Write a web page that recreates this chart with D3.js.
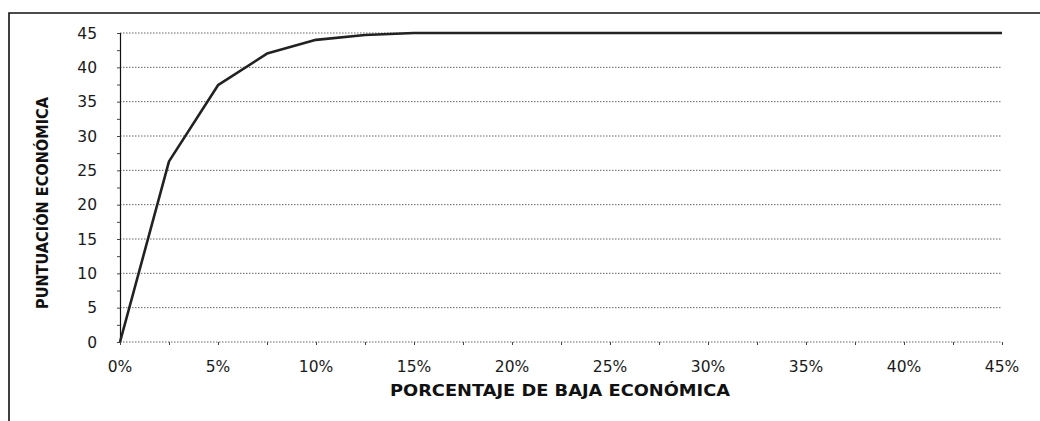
<!DOCTYPE html>
<html>
<head>
<meta charset="utf-8">
<script src="https://cdn.jsdelivr.net/npm/d3@7"></script>
<style>
  body { margin: 0; background: #fff; }
  svg { display: block; }
  .tick-label { font-family: "DejaVu Sans", sans-serif; font-size: 15.5px; fill: #1a1a1a; }
  .axis-title { font-family: "DejaVu Sans", sans-serif; font-size: 15px; font-weight: 700; fill: #111; }
</style>
</head>
<body>
<svg id="chart" width="1040" height="421"></svg>
<script>
// percentage of economic reduction (x) and resulting score (y)
const bajaPct = [0, 2.5, 5, 7.5, 10, 12.5, 15, 17.5, 20, 22.5, 25, 27.5, 30, 32.5, 35, 37.5, 40, 42.5, 45];
const puntuacion = [0, 26.3, 37.4, 42, 44, 44.7, 45, 45, 45, 45, 45, 45, 45, 45, 45, 45, 45, 45, 45];
const xTicks = [0, 5, 10, 15, 20, 25, 30, 35, 40, 45];
const yTicks = [0, 5, 10, 15, 20, 25, 30, 35, 40, 45];
const xTitle = 'PORCENTAJE DE BAJA ECONÓMICA';
const yTitle = 'PUNTUACIÓN ECONÓMICA';

const svg = d3.select('#chart');
const margin = { left: 120, right: 38, top: 33, bottom: 79 }; // px
const width = 1040, height = 421;

const x = d3.scaleLinear().domain([0, 45]).range([margin.left, width - margin.right]);
const y = d3.scaleLinear().domain([0, 45]).range([height - margin.bottom, margin.top]);

// outer frame (top + left edges)
svg.append('path')
  .attr('d', `M9,421 V13 H1040`)
  .attr('fill', 'none')
  .attr('stroke', '#111')
  .attr('stroke-width', 1.6);

// gridlines
svg.append('g')
  .selectAll('line')
  .data(yTicks)
  .join('line')
    .attr('x1', x(0))
    .attr('x2', x(45))
    .attr('y1', d => y(d))
    .attr('y2', d => y(d))
    .attr('stroke', '#666')
    .attr('stroke-width', 1)
    .attr('stroke-dasharray', '1.5,1.5');

// y axis line + minor ticks
const yAxis = d3.axisLeft(y)
  .tickValues(d3.range(0, 45.01, 2.5))
  .tickSize(3)
  .tickFormat('');
svg.append('g')
  .attr('transform', `translate(${x(0)},0)`)
  .call(yAxis)
  .call(g => g.select('.domain').attr('stroke', '#111').attr('stroke-width', 1.2))
  .call(g => g.selectAll('.tick line').attr('stroke', '#444'));

// x axis minor ticks
const xAxis = d3.axisBottom(x)
  .tickValues(d3.range(0, 45.01, 2.5))
  .tickSize(3)
  .tickFormat('');
svg.append('g')
  .attr('transform', `translate(0,${y(0)})`)
  .call(xAxis)
  .call(g => g.select('.domain').remove())
  .call(g => g.selectAll('.tick line').attr('stroke', '#444'));

// tick labels
svg.append('g')
  .selectAll('text')
  .data(yTicks)
  .join('text')
    .attr('class', 'tick-label')
    .attr('x', 97)
    .attr('y', d => y(d))
    .attr('dy', '0.36em')
    .attr('text-anchor', 'end')
    .text(d => d);

svg.append('g')
  .selectAll('text')
  .data(xTicks)
  .join('text')
    .attr('class', 'tick-label')
    .attr('x', d => x(d))
    .attr('y', 366)
    .attr('dy', '0.36em')
    .attr('text-anchor', 'middle')
    .text(d => d + '%');

// axis titles
svg.append('text')
  .attr('class', 'axis-title')
  .attr('x', 560)
  .attr('y', 391)
  .attr('dy', '0.36em')
  .attr('text-anchor', 'middle')
  .attr('textLength', 340)
  .attr('lengthAdjust', 'spacingAndGlyphs')
  .text(xTitle);

svg.append('text')
  .attr('class', 'axis-title')
  .attr('transform', 'translate(43,203) rotate(-90)')
  .attr('dy', '0.36em')
  .attr('text-anchor', 'middle')
  .attr('textLength', 212)
  .attr('lengthAdjust', 'spacingAndGlyphs')
  .text(yTitle);

// data line
const lineFn = d3.line().x((d, i) => x(bajaPct[i])).y(d => y(d));
svg.append('path')
  .attr('d', lineFn(puntuacion))
  .attr('fill', 'none')
  .attr('stroke', '#222')
  .attr('stroke-width', 2.6)
  .attr('stroke-linejoin', 'round');
</script>
</body>
</html>
